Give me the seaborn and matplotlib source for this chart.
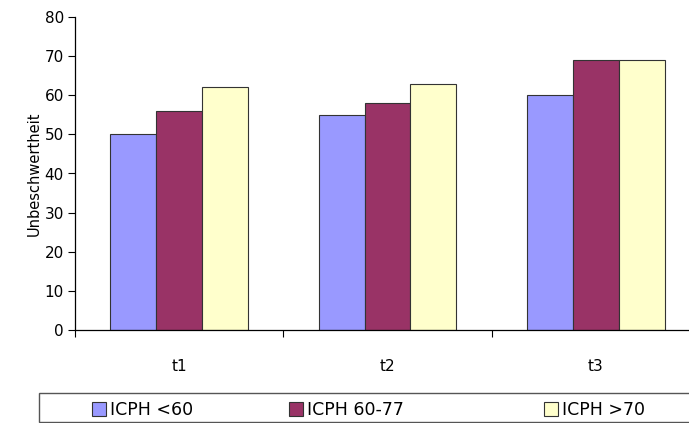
import matplotlib
matplotlib.use("Agg")
import matplotlib.pyplot as plt
from matplotlib.patches import Rectangle
import seaborn as sns
import pandas as pd

categories = ["t1", "t2", "t3"]
series_names = ["ICPH <60", "ICPH 60-77", "ICPH >70"]
icph_lt60 = [50, 55, 60]
icph_60_77 = [56, 58, 69]
icph_gt70 = [62, 63, 69]
y_ticks = [0, 10, 20, 30, 40, 50, 60, 70, 80]
colors = ["#9999FF", "#993366", "#FFFFCC"]

rows = []
for name, vals in zip(series_names, [icph_lt60, icph_60_77, icph_gt70]):
    for c, v in zip(categories, vals):
        rows.append({"Zeit": c, "Gruppe": name, "Wert": v})
df = pd.DataFrame(rows)

sns.set_theme(style="white")
plt.rcParams["font.family"] = ["DejaVu Sans"]
plt.rcParams["text.color"] = "black"
plt.rcParams["xtick.color"] = "black"
plt.rcParams["ytick.color"] = "black"
plt.rcParams["axes.labelcolor"] = "black"

fig = plt.figure(figsize=(6.89, 4.23), dpi=100)
ax = fig.add_axes([75/689, 1-330/423, 625/689, 313/423])

sns.barplot(data=df, x="Zeit", y="Wert", hue="Gruppe", order=categories,
            hue_order=series_names, palette=colors, width=0.66,
            edgecolor="#333333", linewidth=0.8, saturation=1, ax=ax, legend=True)

ax.set_xlim(-0.5, 2.5)
ax.set_ylim(0, 80)
ax.set_yticks(y_ticks)
ax.set_yticklabels([str(t) for t in y_ticks], fontsize=11)
ax.set_xticks([-0.5, 0.5, 1.5, 2.5])
ax.set_xticklabels([])
ax.set_xticks([0, 1, 2], minor=True)
ax.set_xticklabels(categories, minor=True, fontsize=11)
ax.tick_params(axis="x", which="major", direction="out", length=5, width=0.8,
               color="black", bottom=True)
ax.tick_params(axis="x", which="minor", length=0, pad=21)
ax.tick_params(axis="y", direction="out", length=5, width=0.8, color="black",
               left=True, pad=3)
ax.set_xlabel("")
ax.set_ylabel("Unbeschwertheit", fontsize=10.5, labelpad=2)
for s in ["top", "right"]:
    ax.spines[s].set_visible(False)
for s in ["left", "bottom"]:
    ax.spines[s].set_color("black")
    ax.spines[s].set_linewidth(0.9)

handles, labels = ax.get_legend_handles_labels()
ax.get_legend().remove()

# legend frame
fig.patches.append(Rectangle((39/689, 1-422/423), 700/689, 29/423,
                             transform=fig.transFigure, facecolor="white",
                             edgecolor="#555555", linewidth=1.0, zorder=0))

patch_x = [92, 289, 544]
for h, lab, px in zip(handles, labels, patch_x):
    lg = fig.legend([h], [lab], loc="center left",
                    bbox_to_anchor=(px/689, 1-410/423), frameon=False,
                    fontsize=12.5, handlelength=0.8, handleheight=0.8,
                    handletextpad=0.25, borderaxespad=0, borderpad=0)
    for p in lg.get_patches():
        p.set_edgecolor("#333333")
        p.set_linewidth(0.8)

fig.savefig("out.png", dpi=100)
